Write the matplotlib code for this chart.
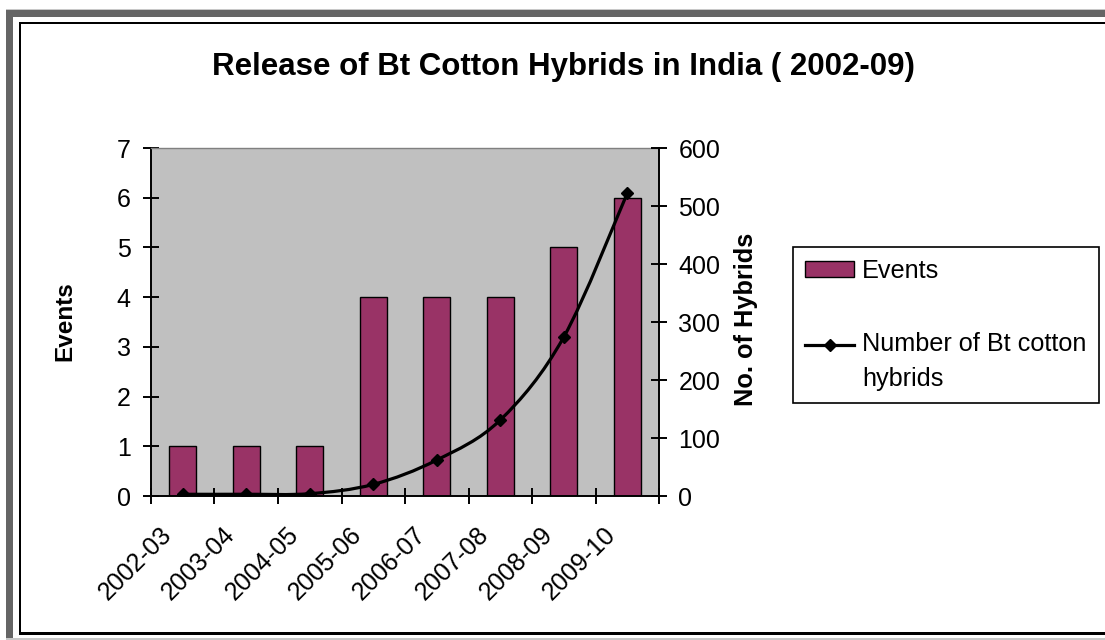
import numpy as np
import matplotlib
matplotlib.use("Agg")
import matplotlib.pyplot as plt
from matplotlib.path import Path
from matplotlib.patches import PathPatch, Rectangle, Patch
from matplotlib.lines import Line2D
from matplotlib.legend_handler import HandlerLine2D
from matplotlib.transforms import ScaledTranslation

# ---- data ----
seasons = ["2002-03", "2003-04", "2004-05", "2005-06",
           "2006-07", "2007-08", "2008-09", "2009-10"]
events = [1, 1, 1, 4, 4, 4, 5, 6]
hybrids = [3, 3, 4, 20, 62, 131, 274, 522]
events_ticks = [0, 1, 2, 3, 4, 5, 6, 7]
hybrid_ticks = [0, 100, 200, 300, 400, 500, 600]

title = "Release of Bt Cotton Hybrids in India ( 2002-09)"
bar_label = "Events"
line_label = "Number of Bt cotton\nhybrids"

plt.rcParams['font.family'] = ['Liberation Sans', 'DejaVu Sans']

W, H = 1105, 640
fig = plt.figure(figsize=(W / 100, H / 100), dpi=100)
fig.patch.set_facecolor('white')


def fx(px):
    return px / W


def fy(py):
    return 1 - py / H


def band(x0, y0, x1, y1, color):
    fig.add_artist(Rectangle((fx(x0), fy(y1)), (x1 - x0) / W, (y1 - y0) / H,
                             transform=fig.transFigure, facecolor=color,
                             edgecolor='none', zorder=1))


# bevelled outer frame
band(6, 9, W, 10, '#c8c8c8')
band(6, 10, W, 17, '#656565')
band(6, 10, 13, 638, '#656565')
band(6, 637.5, W, 639.5, '#c8c8c8')
band(19, 22, W, 24, 'black')
band(19, 22, 21, 635, 'black')
band(19, 632, W, 635, 'black')

# ---- axes ----
ax = fig.add_axes([fx(151), fy(496), (659 - 151) / W, (496 - 148) / H])
ax.set_facecolor('#c0c0c0')
x = np.arange(len(seasons))

ax.bar(x, events, width=0.42, color='#993366', edgecolor='black',
       linewidth=1.0, zorder=2, label=bar_label)
ax.set_xlim(-0.5, len(seasons) - 0.5)
ax.set_ylim(events_ticks[0], events_ticks[-1])
ax.set_yticks(events_ticks)

ax.set_xticks(x)
ax.set_xticklabels(seasons, rotation=45, ha='right', va='center',
                   rotation_mode='anchor')
ax.set_xticks(np.arange(-0.5, len(seasons), 1), minor=True)
ax.tick_params(axis='x', which='major', length=0, pad=25, labelsize=18)
ax.tick_params(axis='x', which='minor', direction='inout', length=11,
               width=1.4, color='black')
ax.tick_params(axis='y', direction='inout', length=11, width=1.4,
               pad=9, labelsize=18)
shift = ScaledTranslation(-15 / 100, 0, fig.dpi_scale_trans)
for lab in ax.get_xticklabels():
    lab.set_transform(lab.get_transform() + shift)

for side in ('left', 'bottom'):
    ax.spines[side].set_linewidth(1.4)
    ax.spines[side].set_color('black')
ax.spines['top'].set_color('#808080')
ax.spines['top'].set_linewidth(1.0)
ax.spines['right'].set_visible(False)

ax2 = ax.twinx()
ax2.set_ylim(hybrid_ticks[0], hybrid_ticks[-1])
ax2.set_yticks(hybrid_ticks)
ax2.tick_params(axis='y', direction='inout', length=11, width=1.4,
                pad=8.5, labelsize=18)
for side in ('left', 'top', 'bottom'):
    ax2.spines[side].set_visible(False)
ax2.spines['right'].set_linewidth(1.4)

# smoothed curve through the hybrid counts (Catmull-Rom as cubic Beziers)
pts = np.column_stack([x, hybrids]).astype(float)
ext = np.vstack([pts[0], pts, pts[-1]])
verts = [tuple(pts[0])]
codes = [Path.MOVETO]
for i in range(len(pts) - 1):
    p0, p1, p2, p3 = ext[i], ext[i + 1], ext[i + 2], ext[i + 3]
    c1 = p1 + (p2 - p0) / 6
    c2 = p2 - (p3 - p1) / 6
    verts += [tuple(c1), tuple(c2), tuple(p2)]
    codes += [Path.CURVE4] * 3
ax2.add_patch(PathPatch(Path(verts, codes), fill=False, edgecolor='black',
                        linewidth=2.3, capstyle='round', joinstyle='round',
                        transform=ax2.transData, zorder=3))
ax2.plot(x, hybrids, linestyle='none', marker='D', markersize=6.2,
         color='black', zorder=4)

# ---- text ----
fig.text(fx(563), fy(75), title, ha='center', va='baseline',
         fontsize=22.5, fontweight='bold')
fig.text(fx(65), fy(321), 'Events', rotation=90, ha='center', va='center',
         fontsize=17.5, fontweight='bold')
fig.text(fx(746), fy(319), 'No. of Hybrids', rotation=90, ha='center',
         va='center', fontsize=18.3, fontweight='bold')


# ---- legend ----
class HandlerFirstLine(HandlerLine2D):
    """Line handle aligned with the first line of a two-line label."""

    def __init__(self, lift, **kw):
        super().__init__(**kw)
        self.lift = lift

    def create_artists(self, legend, orig_handle, xdescent, ydescent,
                       width, height, fontsize, trans):
        arts = super().create_artists(legend, orig_handle, xdescent,
                                      ydescent, width, height, fontsize,
                                      trans)
        for a in arts:
            a.set_ydata(np.asarray(a.get_ydata(), float) + self.lift * fontsize)
        return arts


bar_handle = Patch(facecolor='#993366', edgecolor='black', linewidth=1.0)
line_handle = Line2D([], [], color='black', linewidth=2.3, marker='D',
                     markersize=6.2)
leg = fig.legend([bar_handle, line_handle], [bar_label, line_label],
                 loc='upper left', bbox_to_anchor=(fx(793), fy(247)),
                 borderaxespad=0, frameon=True, fancybox=False,
                 edgecolor='black', framealpha=1, fontsize=18.2,
                 handlelength=1.95, handleheight=0.6, handletextpad=0.3,
                 borderpad=0.48, labelspacing=1.95,
                 handler_map={line_handle: HandlerFirstLine(0.68)})
leg.get_frame().set_linewidth(1.2)
leg.get_texts()[1].set_linespacing(1.55)

fig.savefig('out.png', dpi=100)
